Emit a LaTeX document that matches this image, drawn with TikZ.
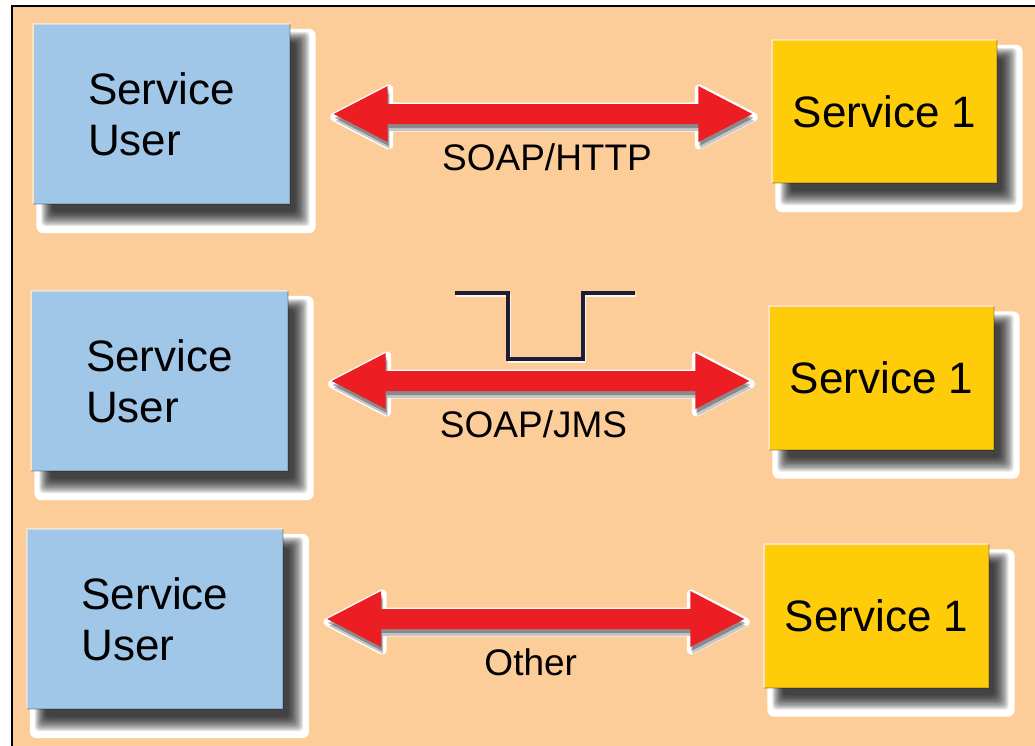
\documentclass[tikz,border=0pt]{standalone}
\usepackage{fontspec}
\setmainfont{Liberation Sans}
\usetikzlibrary{calc}
\pgfdeclarelayer{paper}
\pgfdeclarelayer{shade}
\pgfsetlayers{paper,shade,main}

\definecolor{peach}{RGB}{253,205,153}
\definecolor{userblue}{RGB}{160,199,232}
\definecolor{serviceyellow}{RGB}{255,204,10}
\definecolor{linkred}{RGB}{236,30,36}
\definecolor{wavecol}{RGB}{28,28,52}

\tikzset{
  box/.style={rectangle, inner sep=0pt, align=left,
    font=\fontsize{44}{51}\selectfont},
  userbox/.style={box, fill=userblue, minimum width=256pt, minimum height=180pt},
  servicebox/.style={box, fill=serviceyellow, minimum width=224pt, minimum height=143pt},
  linkhalo/.style={draw=white, fill=white, line width=9pt, line join=round,
    transform canvas={shift={(1pt,-3pt)}}},
  linkshadefar/.style={fill=black, opacity=0.22, transform canvas={shift={(2pt,-7pt)}}},
  linkshadenear/.style={fill=black, opacity=0.3, transform canvas={shift={(1pt,-4pt)}}},
  linkbody/.style={fill=linkred},
  linklabel/.style={anchor=base, inner sep=0pt, font=\fontsize{37}{40}\selectfont},
  bevellight/.style={draw=white, opacity=0.4, line width=2pt},
  beveldark/.style={draw=black, opacity=0.15, line width=2pt},
}

% outline of a double-headed fat arrow between two points
\newcommand\twoheadpath[2]{(#1) -- ++(54,-28) -- ++(0,18) -- ($(#2)+(-54,-10)$)
  -- ++(0,-18) -- (#2) -- ++(-54,28) -- ++(0,-18) -- ($(#1)+(54,10)$) -- ++(0,18) -- cycle}

% fat red link from the east side of #1 towards the west side of #2
\newcommand\fatlink[4]{%
  \coordinate (#1#2l) at ($(#1.east)+(44,0)$);
  \coordinate (#1#2r) at ($(#1.east -| #2.west)+(-20,0)$);
  \draw[linkhalo] \twoheadpath{#1#2l}{#1#2r};
  \fill[linkshadefar] \twoheadpath{#1#2l}{#1#2r};
  \fill[linkshadenear] \twoheadpath{#1#2l}{#1#2r};
  \fill[linkbody] \twoheadpath{#1#2l}{#1#2r};
  \node[linklabel] (#1#2t) at ($(#1#2l)!0.5!(#1#2r)+(#4,56)$) {#3};
}

% soft drop shadow with a pale rim, plus edge bevel
\newcommand\boxshade[1]{%
  \begin{pgfonlayer}{shade}
    \fill[white, rounded corners=7pt] ($(#1.north west)+(3,5)$) rectangle ($(#1.south east)+(26,29)$);
    \foreach \k in {0,...,11}{%
      \fill[black, opacity=0.1, rounded corners=4pt]
        ($(#1.north west)+(8+\k,8+\k)$) rectangle ($(#1.south east)+(20-1.3*\k,22-1.3*\k)$);}
  \end{pgfonlayer}
  \draw[bevellight] (#1.south west) -- (#1.north west) -- (#1.north east);
  \draw[beveldark] (#1.north east) -- (#1.south east) -- (#1.south west);
}

\begin{document}
\begin{tikzpicture}[x=1pt, y=-1pt]
\useasboundingbox (0,0) rectangle (1035,745);

% paper and frame
\begin{pgfonlayer}{paper}
  \fill[white] (0,0) rectangle (1035,745);
  \fill[peach] (12,6) rectangle (1045,755);
  \draw[line width=2pt] (12,755) -- (12,6) -- (1045,6);
\end{pgfonlayer}

% boxes
\node[userbox] (u1) at (161.5,114) {Service\\User};
\node[servicebox] (s1) at (884.5,111.5) {Service 1};
\node[userbox] (u2) at (159.5,381) {Service\\User};
\node[servicebox] (s2) at (881.5,378) {Service 1};
\node[userbox] (u3) at (155,619) {Service\\User};
\node[servicebox] (s3) at (876.5,616) {Service 1};

\boxshade{u1}\boxshade{s1}
\boxshade{u2}\boxshade{s2}
\boxshade{u3}\boxshade{s3}

% message-queue pulse above the JMS link
\draw[white, opacity=0.8, line width=3pt, transform canvas={shift={(1pt,-2.5pt)}}]
  (455,293) -- (508,293) -- (508,359) -- (583,359) -- (583,293) -- (635,293);
\draw[wavecol, line width=3.5pt]
  (455,293) -- (508,293) -- (508,359) -- (583,359) -- (583,293) -- (635,293);

% links
\fatlink{u1}{s1}{SOAP/HTTP}{4}
\fatlink{u2}{s2}{SOAP/JMS}{-7}
\fatlink{u3}{s3}{Other}{-5}
\end{tikzpicture}
\end{document}
